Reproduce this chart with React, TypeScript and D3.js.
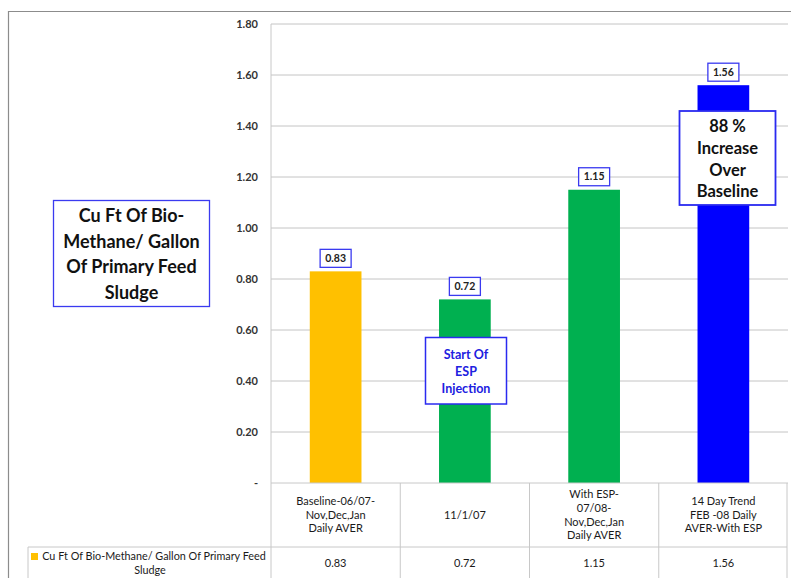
import * as d3 from 'd3';

// chart data
const categories = ['Baseline', '11/1/07', 'With ESP', '14 Day Trend'];
const categoryLines = [
    ['Baseline-06/07-', 'Nov,Dec,Jan', 'Daily AVER'],
    ['11/1/07'],
    ['With ESP-', '07/08-', 'Nov,Dec,Jan', 'Daily AVER'],
    ['14 Day Trend', 'FEB -08 Daily', 'AVER-With ESP'],
];
const values = [0.83, 0.72, 1.15, 1.56];
const barColors = ['#FFC000', '#00B050', '#00B050', '#0000FF'];
const yTicks = [0, 0.2, 0.4, 0.6, 0.8, 1.0, 1.2, 1.4, 1.6, 1.8];
const seriesName = ['Cu Ft Of Bio-Methane/ Gallon Of Primary Feed', 'Sludge'];
const titleLines = ['Cu Ft Of Bio-', 'Methane/ Gallon', 'Of Primary Feed', 'Sludge'];
const startLines = ['Start Of', 'ESP', 'Injection'];
const increaseLines = ['88 %', 'Increase', 'Over', 'Baseline'];

const FONT = 'Lato, "Open Sans", sans-serif';

const App = () => {
    const W = 791, H = 578;
    const left = 271, right = 788, top = 24, bottom = 483;
    const rowBottom = 547;

    const x = d3.scaleBand().domain(categories).range([left, right]).padding(0);
    const y = d3.scaleLinear().domain([0, 1.8]).range([bottom, top]);
    const bw = x.bandwidth() * 0.4;
    const fmt = d3.format('.2f');
    const bandEdges = categories.map(c => x(c) as number).concat([right]);

    return (
        <svg width={W} height={H} style={{ position: 'absolute', left: 0, top: 0, background: '#fff' }}>
            {/* outer frame */}
            <path d={`M8.5,${H} L8.5,11.5 L${W},11.5`} fill="none" stroke="#8c8c8c" strokeWidth={1.2} />

            {/* gridlines */}
            {yTicks.filter(t => t > 0).map(t => (
                <line key={t} x1={left} x2={right} y1={y(t)} y2={y(t)} stroke="#c4c4c4" strokeWidth={1} />
            ))}
            {/* y axis labels */}
            {yTicks.map(t => (
                <text key={'l' + t} x={258} y={y(t)} dy="0.35em" textAnchor="end" fontFamily={FONT}
                    fontSize={11} fontWeight="bold" fill="#333">
                    {t === 0 ? '-' : fmt(t)}
                </text>
            ))}

            {/* bars */}
            {values.map((v, i) => (
                <rect key={i} x={(x(categories[i]) as number) + (x.bandwidth() - bw) / 2} y={y(v)}
                    width={bw} height={y(0) - y(v)} fill={barColors[i]} />
            ))}

            {/* data labels */}
            {values.map((v, i) => {
                const cx = (x(categories[i]) as number) + x.bandwidth() / 2;
                const by = y(v) - 4;
                return (
                    <g key={'d' + i}>
                        <rect x={cx - 15.5} y={by - 18} width={31} height={18} fill="#fff" stroke="#3a3af0" strokeWidth={1.3} />
                        <text x={cx} y={by - 9} dy="0.35em" textAnchor="middle" fontFamily={FONT}
                            fontSize={10.5} fontWeight="bold" fill="#222">{fmt(v)}</text>
                    </g>
                );
            })}

            {/* data table */}
            <g stroke="#c8c8c8" strokeWidth={1} fill="none">
                <line x1={left} x2={right} y1={bottom} y2={bottom} />
                <line x1={28} x2={right - 1} y1={rowBottom} y2={rowBottom} />
                <line x1={28} x2={28} y1={rowBottom} y2={H} />
                {bandEdges.map((e, i) => (
                    <line key={i} x1={i === 4 ? e - 1 : e} x2={i === 4 ? e - 1 : e} y1={i === 0 ? top : bottom} y2={H} />
                ))}
            </g>
            {categoryLines.map((lines, i) => {
                const cx = (x(categories[i]) as number) + x.bandwidth() / 2;
                const lh = 13.6;
                const y0 = 515 - (lines.length - 1) * lh / 2;
                return lines.map((ln, j) => (
                    <text key={i + '-' + j} x={cx} y={y0 + j * lh} dy="0.35em" textAnchor="middle"
                        fontFamily={FONT} fontSize={11} fill="#1a1a1a">{ln}</text>
                ));
            })}
            {values.map((v, i) => (
                <text key={'t' + i} x={(x(categories[i]) as number) + x.bandwidth() / 2} y={563} dy="0.35em"
                    textAnchor="middle" fontFamily={FONT} fontSize={11} fill="#1a1a1a">{fmt(v)}</text>
            ))}
            {/* legend key */}
            <rect x={31} y={553} width={7} height={7} fill={barColors[0]} />
            <text x={154} y={556.5} dy="0.35em" textAnchor="middle" fontFamily={FONT} fontSize={10.8}
                fill="#1a1a1a">{seriesName[0]}</text>
            <text x={150} y={570.5} dy="0.35em" textAnchor="middle" fontFamily={FONT} fontSize={10.8}
                fill="#1a1a1a">{seriesName[1]}</text>

            {/* axis title box */}
            <rect x={53.5} y={200.5} width={156} height={106} fill="#fff" stroke="#3a3af0" strokeWidth={1.3} />
            {titleLines.map((t, i) => (
                <text key={'ti' + i} x={131.5} y={216 + i * 25.4} dy="0.35em" textAnchor="middle" fontFamily={FONT}
                    fontSize={18} fontWeight="bold" fill="#111">{t}</text>
            ))}

            {/* Start Of ESP annotation */}
            <rect x={425.5} y={337.5} width={81} height={66.5} fill="#fff" stroke="#2a2af0" strokeWidth={1.5} />
            {startLines.map((t, i) => (
                <text key={'s' + i} x={466} y={354.5 + i * 17} dy="0.35em" textAnchor="middle" fontFamily={FONT}
                    fontSize={12.5} fontWeight="bold" fill="#2020e0">{t}</text>
            ))}

            {/* increase annotation */}
            <rect x={679.5} y={111} width={96} height={94} fill="#fff" stroke="#2a2af0" strokeWidth={1.8} />
            {increaseLines.map((t, i) => (
                <text key={'n' + i} x={727.5} y={126 + i * 21.9} dy="0.35em" textAnchor="middle" fontFamily={FONT}
                    fontSize={16.5} fontWeight="bold" fill="#111">{t}</text>
            ))}
        </svg>
    );
};

export default App;
